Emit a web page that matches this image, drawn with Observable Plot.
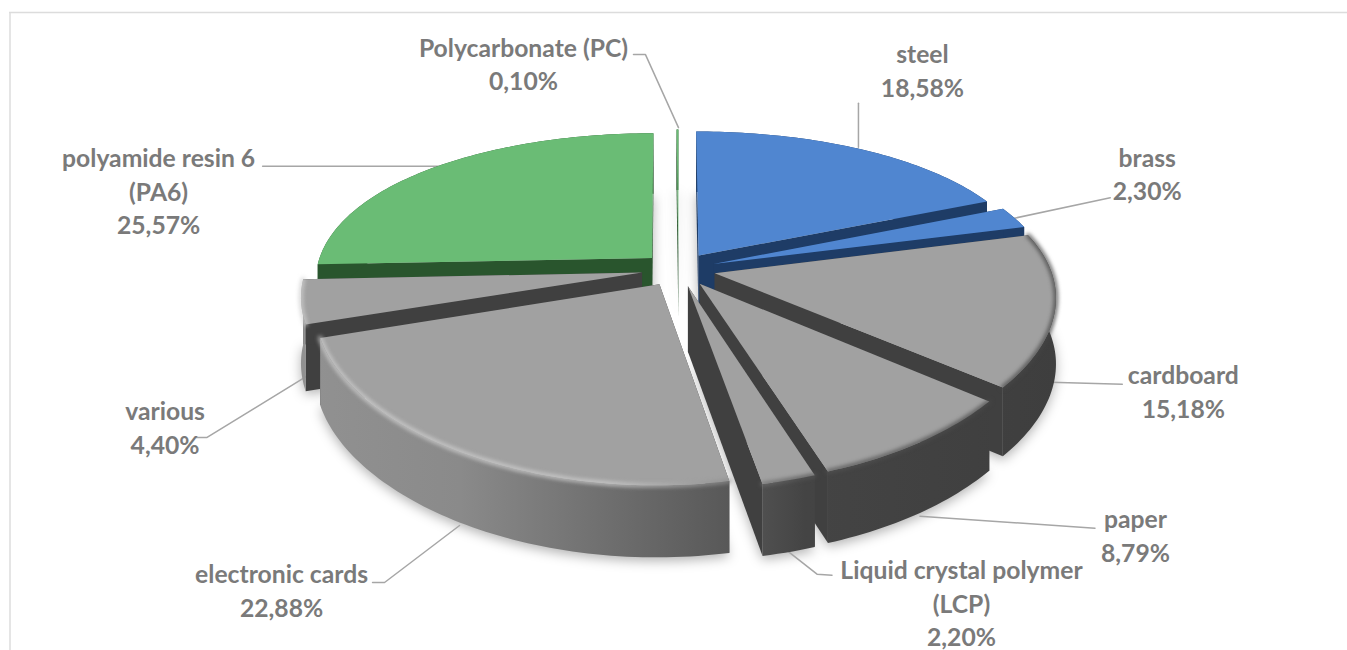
<!DOCTYPE html>
<html><head><meta charset="utf-8">
<script src="https://cdn.jsdelivr.net/npm/d3@7"></script>
<script src="https://cdn.jsdelivr.net/npm/@observablehq/plot@0.6"></script>
<style>html,body{margin:0;padding:0;background:#fff}svg{display:block}</style>
</head><body><div id="chart"></div>
<script>
const materials = ["steel","brass","cardboard","paper","Liquid crystal polymer\n(LCP)","electronic cards","various","polyamide resin 6\n(PA6)","Polycarbonate (PC)"];
const shares = [18.58,2.30,15.18,8.79,2.20,22.88,4.40,25.57,0.10];
const families = ["blue","blue","gray","gray","gray","gray","gray","green","green"];

// Styling and layout, all relative to each slice's mid-arc point
const palette = {blue:{top:"#5086d0",side:"#1e3c66"},gray:{top:"#a1a1a1",side:"#404040"},green:{top:"#6abc75",side:"#29552d"}};
const view = {cx:678,cy:269,rx:336,ry:154,kx:0.14,ky:0.2,explode:0.11};
const labelOffsets = [[62,-80],[133,-45],[128,82],[215.5,92],[172.5,122],[-178,138],[-136,125],[-276,23],[-154,-67]];
const leaderOffsets = [
  [[-2,-2],[-2,-46]],
  [[-2,1],[96,-20]],
  [[-5,74],[67,76]],
  [[0,74],[175,86]],
  [[0,72],[28,94],[43,95]],
  [[0,74],[-75,131],[-87,131]],
  [[7,74],[-94,136],[-105,136]],
  [[4,-1],[-172,-1]],
  [[1,-2],[-32,-75],[-44,-75]]
];

const total = d3.sum(shares);
function proj(u,v,z=0){const sx=1/(1+view.kx*v),sy=1/(1+view.ky*v);return {x:view.cx+view.rx*u*sx,y:view.cy-view.ry*v*sy+z*(40+25*sy)};}
let acc=0;
const slices = shares.map((p,i)=>{
  const a0=acc/total*2*Math.PI; acc+=p; const a1=acc/total*2*Math.PI; const mid=(a0+a1)/2;
  const u0=view.explode*Math.sin(mid), v0=view.explode*Math.cos(mid);
  const n=Math.max(2,Math.ceil((a1-a0)/0.02));
  const arc=z=>d3.range(n+1).map(j=>{const a=a0+(a1-a0)*j/n;return proj(u0+Math.sin(a),v0+Math.cos(a),z);});
  const apex=z=>proj(u0,v0,z);
  const anchor=proj(u0+Math.sin(mid),v0+Math.cos(mid),0);
  const c=palette[families[i]];
  return {i,mid,arc,apex,anchor,c,label:materials[i]+"\n"+p.toFixed(2).replace(".",",")+"%"};
});
const order=[...slices].sort((a,b)=>Math.cos(b.mid)-Math.cos(a.mid));
const poly=(pts,o)=>Plot.line(pts,{x:"x",y:"y",curve:"linear-closed",stroke:"none",...o});
const marks=[];
marks.push(()=>{
  const d=d3.create("svg:defs");
  const g=(id,stops)=>{const l=d.append("linearGradient").attr("id",id).attr("gradientUnits","userSpaceOnUse").attr("x1",310).attr("x2",1060).attr("y1",0).attr("y2",0);stops.forEach(([o,c])=>l.append("stop").attr("offset",o).attr("stop-color",c));};
  g("wall",[[0,"#919191"],[0.2,"#8a8a8a"],[0.4,"#6e6e6e"],[0.56,"#585858"],[0.66,"#444"],[1,"#3e3e3e"]]);
  g("rim",[[0,"#cfcfcf"],[0.4,"#cfcfcf"],[0.55,"#8f8f8f"],[0.65,"#555"],[1,"#444"]]);
  return d.node();
});
marks.push(Plot.ruleY([12],{x1:9,x2:1347,stroke:"#dcdcdc",strokeWidth:1.5}));
marks.push(Plot.ruleX([9.5],{y1:12,y2:650,stroke:"#dcdcdc",strokeWidth:1.5}));
// soft shadows
slices.forEach(s=>{
  marks.push(poly([s.apex(1.05),...s.arc(1.05)],{fill:"#000",fillOpacity:0.3,imageFilter:"blur(6px)"}));
});
// leader lines, from each slice's mid-arc point out to its label
slices.forEach(s=>marks.push(Plot.line(leaderOffsets[s.i].map(([dx,dy])=>({x:s.anchor.x+dx,y:s.anchor.y+dy})),{x:"x",y:"y",stroke:"#a6a6a6",strokeWidth:1.5})));
order.forEach(s=>{
  const top=[s.apex(0),...s.arc(0)];
  const arcT=s.arc(0),arcB=s.arc(1);
  const last=arcT.length-1;
  marks.push(poly([s.apex(0),arcT[0],arcB[0],s.apex(1)],{fill:s.c.side}));
  marks.push(poly([s.apex(0),arcT[last],arcB[last],s.apex(1)],{fill:s.c.side}));
  marks.push(poly([...arcT,...[...arcB].reverse()],{fill:families[s.i]==="gray"?"url(#wall)":s.c.side}));
  marks.push(poly(top,{fill:s.c.top}));
  if(families[s.i]==="gray") marks.push(Plot.line(arcT,{x:"x",y:"y",stroke:"url(#rim)",strokeWidth:3.5,imageFilter:"blur(2px)"}));
});
marks.push(Plot.text(slices,{x:s=>s.anchor.x+labelOffsets[s.i][0],y:s=>s.anchor.y+labelOffsets[s.i][1],text:"label",fontFamily:"Lato",fontWeight:700,fontSize:24.7,fill:"#7a7a7a",lineHeight:1.356,textAnchor:"middle"}));
const plot=Plot.plot({width:1347,height:650,margin:0,
  x:{domain:[0,1347],range:[0,1347],axis:null},y:{domain:[0,650],range:[0,650],axis:null},marks});
document.getElementById("chart").append(plot);
</script></body></html>
